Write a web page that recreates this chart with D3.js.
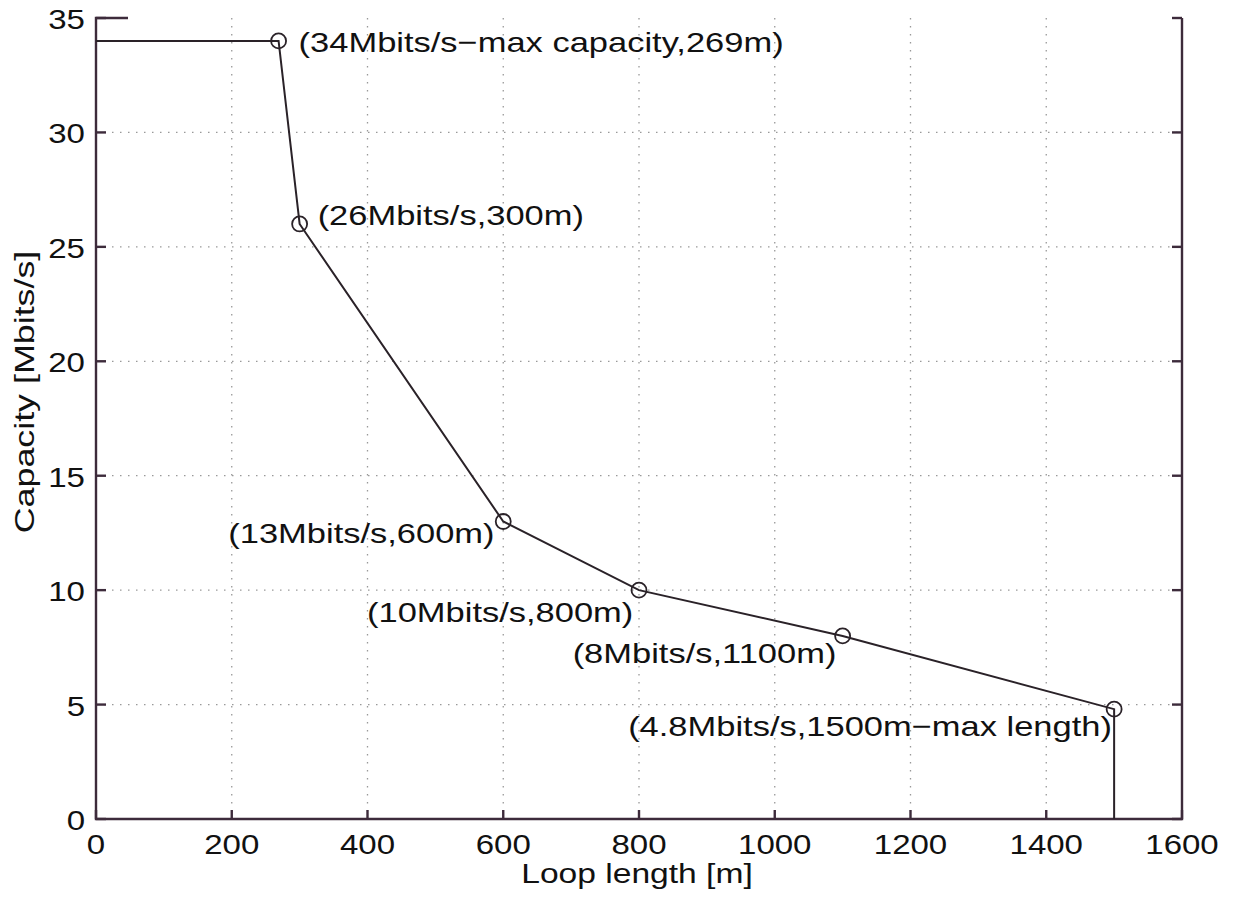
<!DOCTYPE html>
<html>
<head>
    <title>Capacity vs loop length</title>
    <script src="https://cdnjs.cloudflare.com/ajax/libs/d3/7.8.5/d3.min.js"></script>
    <style>
        body {
            margin: 0;
            background: white;
            font-family: "Liberation Sans", Arial, sans-serif;
        }
        .tick-label { font-size: 28px; fill: #111; }
        .axis-title { font-size: 28px; fill: #111; }
        .point-label { font-size: 28.5px; fill: #111; }
        .grid { stroke: #999; stroke-width: 1.3; stroke-dasharray: 1.5 6.5; }
        .frame { stroke: #3d2b3b; stroke-width: 2.4; fill: none; }
    </style>
</head>
<body>
    <div id="chart"></div>
    <script>
        // curve points: loop length [m] vs capacity [Mbits/s]
        const loopLength = [269, 300, 600, 800, 1100, 1500];
        const capacity = [34, 26, 13, 10, 8, 4.8];
        const pointLabels = [
            "(34Mbits/s\u2212max capacity,269m)",
            "(26Mbits/s,300m)",
            "(13Mbits/s,600m)",
            "(10Mbits/s,800m)",
            "(8Mbits/s,1100m)",
            "(4.8Mbits/s,1500m\u2212max length)"
        ];
        const xTicks = [0, 200, 400, 600, 800, 1000, 1200, 1400, 1600];
        const yTicks = [0, 5, 10, 15, 20, 25, 30, 35];

        // label offsets relative to their point (px)
        const labelOffsets = [[20, 11], [18, 1], [-275, 22], [-272, 32], [-270, 27], [-486, 27]];

        const W = 1233, H = 898;

        const svg = d3.select("#chart").append("svg")
            .attr("width", W)
            .attr("height", H);

        const x = d3.scaleLinear().domain([0, 1600]).range([96, 1182]);
        const y = d3.scaleLinear().domain([0, 35]).range([819, 18]);

        // the original lettering is a bit wider than Liberation Sans
        function wideText(cls, px, py, anchor, str, sx, rot) {
            return svg.append("text")
                .attr("class", cls)
                .attr("transform", `translate(${px},${py})${rot ? " rotate(" + rot + ")" : ""} scale(${sx},1)`)
                .attr("text-anchor", anchor)
                .text(str);
        }

        // dotted grid
        svg.selectAll(".vgrid")
            .data(xTicks.filter(d => d > 0 && d < 1600))
            .enter().append("line")
            .attr("class", "grid")
            .attr("x1", d => x(d)).attr("x2", d => x(d))
            .attr("y1", y(35)).attr("y2", y(0));

        svg.selectAll(".hgrid")
            .data(yTicks.filter(d => d > 0 && d < 35))
            .enter().append("line")
            .attr("class", "grid")
            .attr("x1", x(0)).attr("x2", x(1600))
            .attr("y1", d => y(d)).attr("y2", d => y(d));

        // frame: left, bottom, right (top only a short stub)
        svg.append("path")
            .attr("class", "frame")
            .attr("d", `M${x(0) + 32},${y(35)}H${x(0)}V${y(0)}H${x(1600)}V${y(35)}`);

        // inward ticks
        xTicks.forEach(d => {
            svg.append("line").attr("class", "frame")
                .attr("x1", x(d)).attr("x2", x(d))
                .attr("y1", y(0)).attr("y2", y(0) - 9);
        });
        yTicks.forEach(d => {
            svg.append("line").attr("class", "frame")
                .attr("x1", x(0)).attr("x2", x(0) + 10)
                .attr("y1", y(d)).attr("y2", y(d));
            svg.append("line").attr("class", "frame")
                .attr("x1", x(1600)).attr("x2", x(1600) - 10)
                .attr("y1", y(d)).attr("y2", y(d));
        });

        // tick labels
        xTicks.forEach(d => wideText("tick-label", x(d), y(0) + 35, "middle", d, 1.18));
        yTicks.forEach(d => wideText("tick-label", x(0) - 11, y(d) + 11, "end", d, 1.18));

        // axis titles
        wideText("axis-title", 637, 883, "middle", "Loop length [m]", 1.2);
        wideText("axis-title", 34, 392, "middle", "Capacity [Mbits/s]", 1.28, -90);

        // curve, including the flat start and the drop at max length
        const pts = loopLength.map((d, i) => [d, capacity[i]]);
        const full = [[0, capacity[0]], ...pts, [loopLength[loopLength.length - 1], 0]];
        const line = d3.line().x(d => x(d[0])).y(d => y(d[1]));

        svg.append("path")
            .attr("d", line(full))
            .attr("fill", "none")
            .attr("stroke", "#2a2228")
            .attr("stroke-width", 2);

        svg.selectAll(".marker")
            .data(pts)
            .enter().append("circle")
            .attr("cx", d => x(d[0]))
            .attr("cy", d => y(d[1]))
            .attr("r", 7.5)
            .attr("fill", "none")
            .attr("stroke", "#2a2228")
            .attr("stroke-width", 1.8);

        pts.forEach((d, i) => {
            wideText("point-label", x(d[0]) + labelOffsets[i][0], y(d[1]) + labelOffsets[i][1], "start", pointLabels[i], 1.21);
        });
    </script>
</body>
</html>
